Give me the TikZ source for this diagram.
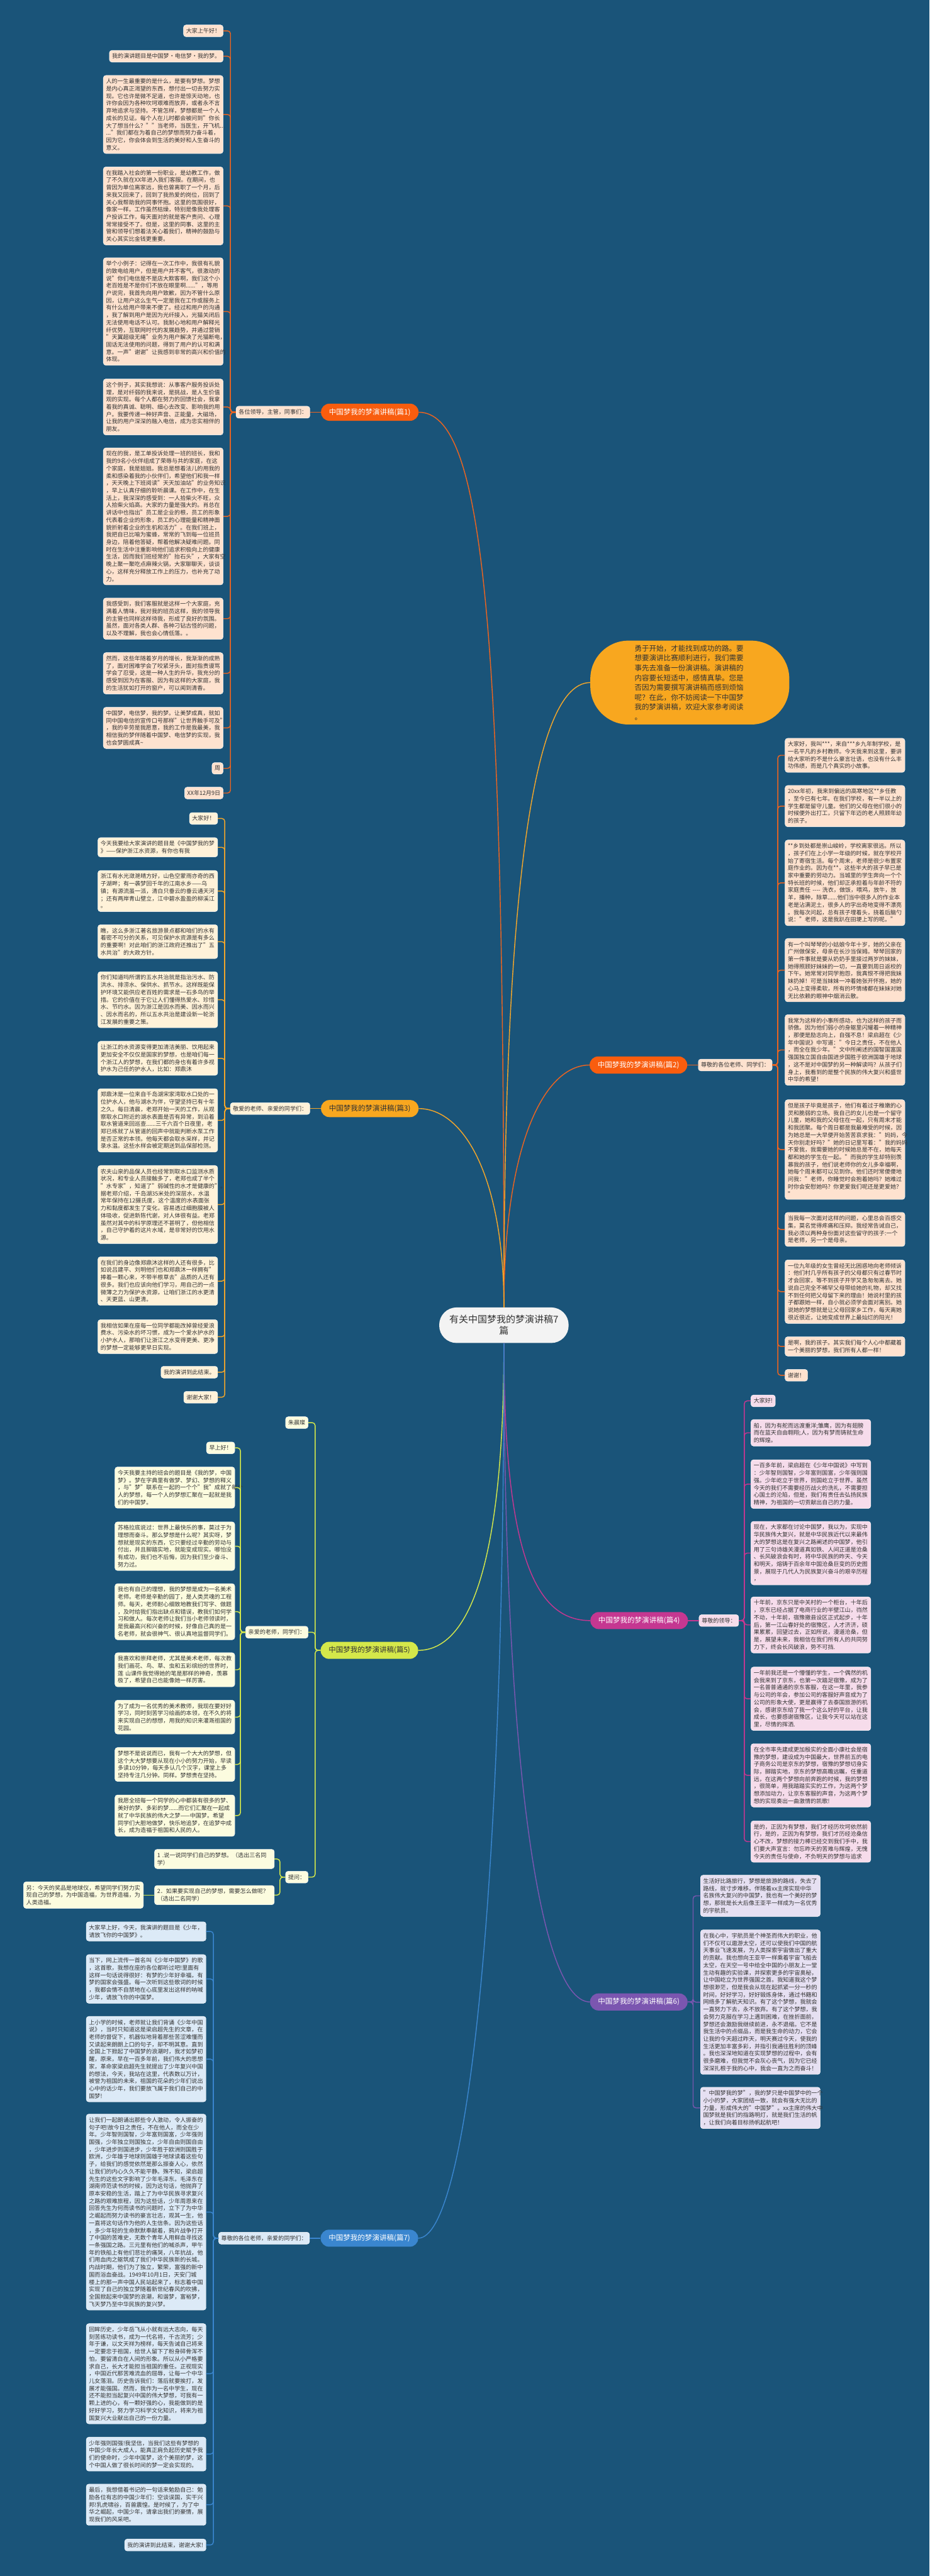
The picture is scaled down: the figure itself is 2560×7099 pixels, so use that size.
\documentclass[tikz,border=0pt]{standalone}
\usepackage{fontspec}
\setmainfont{Noto Sans CJK SC}
\usetikzlibrary{positioning}

\definecolor{bgblue}{HTML}{1A5479}
\definecolor{txt}{HTML}{333333}
\definecolor{orline}{HTML}{EC6420}
\definecolor{ornode}{HTML}{F95D0E}
\definecolor{orbox}{HTML}{FEE2CF}
\definecolor{goline}{HTML}{F3A62A}
\definecolor{gonode}{HTML}{F8A71F}
\definecolor{gobox}{HTML}{FFF2D9}
\definecolor{ygline}{HTML}{D5E84A}
\definecolor{ygbox}{HTML}{FCFCDF}
\definecolor{mgline}{HTML}{C53791}
\definecolor{mgbox}{HTML}{F6DCEB}
\definecolor{puline}{HTML}{7B56B0}
\definecolor{pubox}{HTML}{E6E0F2}
\definecolor{blline}{HTML}{3A86CF}
\definecolor{blbox}{HTML}{DCEAF7}
\definecolor{centrefill}{HTML}{F3F3F3}

\newcommand{\boxfont}{\fontsize{15.7}{20.3}\selectfont}

\tikzset{
  base/.style={rounded corners=7pt, inner xsep=7.5pt, inner ysep=9pt, align=left,
    font=\boxfont, text=txt, draw=white, line width=0.8pt},
  para/.style={base, text width=315pt},
  chip/.style={base},
  branchnode/.style={rounded corners=23pt, inner xsep=22pt, inner ysep=12pt,
    minimum height=47pt, font=\fontsize{20}{24}\selectfont, text=white},
  link/.style={line width=2.5pt, rounded corners=8pt},
  curve/.style={line width=2.5pt}
}

\begin{document}
\begin{tikzpicture}[x=1pt,y=-1pt]
\fill[bgblue] (0,0) rectangle (2560,7099);
\useasboundingbox (0,0) rectangle (2560,7099);

% centre
\node[rounded corners=48pt, fill=centrefill, text=txt, align=center, inner xsep=28pt,
  inner ysep=14pt, minimum height=98pt, font=\fontsize{26}{31}\selectfont] (cc) at (1388,3652)
  {有关中国梦我的梦演讲稿7\\篇};

% intro bubble
\node[rounded corners=105pt, fill=gonode, text=txt, align=left, text width=304pt,
  inner xsep=122pt, inner ysep=12pt, font=\fontsize{20}{27}\selectfont] (intro) at (1900,1881)
  {勇于开始，才能找到成功的路。要\\想要演讲比赛顺利进行，我们需要\\事先去准备一份演讲稿。演讲稿的\\内容要长短适中，感情真挚。您是\\否因为需要撰写演讲稿而感到烦恼\\呢？在此，你不妨阅读一下中国梦\\我的梦演讲稿，欢迎大家参考阅读\\。};

% branch nodes
\node[branchnode, fill=ornode, anchor=east] (p1) at (1153,1136) {中国梦我的梦演讲稿(篇1)};
\node[branchnode, fill=ornode, anchor=west] (p2) at (1624,2935) {中国梦我的梦演讲稿(篇2)};
\node[branchnode, fill=gonode, text=txt, anchor=east] (p3) at (1153,3055) {中国梦我的梦演讲稿(篇3)};
\node[branchnode, fill=mgline, anchor=west] (p4) at (1626,4466) {中国梦我的梦演讲稿(篇4)};
\node[branchnode, fill=ygline, text=txt, anchor=east] (p5) at (1152,4548) {中国梦我的梦演讲稿(篇5)};
\node[branchnode, fill=puline, anchor=west] (p6) at (1625,5517) {中国梦我的梦演讲稿(篇6)};
\node[branchnode, fill=blline, anchor=east] (p7) at (1152,6168) {中国梦我的梦演讲稿(篇7)};

% pian 1
\begin{scope}[every node/.append style={fill=orbox}]
\node[chip, left=30pt of p1] (l1) {各位领导，主管，同事们：};
\node[chip, anchor=east] (a1) at (615,85) {大家上午好！};
\node[chip, anchor=east] (a2) at (615,155) {我的演讲题目是中国梦·电信梦·我的梦。};
\node[para, anchor=east] (a3) at (615,315.5) {人的一生最重要的是什么，是要有梦想。梦想\\是内心真正渴望的东西，想付出一切去努力实\\现。它也许是微不足道，也许是惊天动地，也\\许你会因为各种坎坷艰难而放弃，或者永不言\\弃地追求与坚持。不管怎样，梦想都是一个人\\成长的见证。每个人在儿时都会被问到"你长\\大了想当什么？""当老师，当医生，开飞机...\\..."我们都在为着自己的梦想而努力奋斗着，\\因为它，你会体会到生活的美好和人生奋斗的\\意义。};
\node[para, anchor=east] (a4) at (615,567.5) {在我踏入社会的第一份职业，是幼教工作，做\\了不久就在XX年进入我们客服。在期间，也\\曾因为单位离家远，我也曾离职了一个月，后\\来我又回来了，回到了我热爱的岗位，回到了\\关心我帮助我的同事怀抱。这里的氛围很好，\\像家一样。工作虽然枯燥，特别是像我处理客\\户投诉工作，每天面对的就是客户责问、心理\\常常接受不了。但是，这里的同事、这里的主\\管和领导们想着法关心着我们，精神的鼓励与\\关心其实比金钱更重要。};
\node[para, anchor=east] (a5) at (615,858.5) {举个小例子：记得在一次工作中，我很有礼貌\\的致电给用户，但是用户并不客气，很激动的\\说"你们电信是不是店大欺客啊，我们这个小\\老百姓是不是你们不放在眼里啊......"，等用\\户说完，我首先向用户致歉，因为不管什么原\\因，让用户这么生气一定是我在工作或服务上\\有什么给用户带来不便了。经过和用户的沟通\\，我了解到用户是因为光纤接入，光猫关闭后\\无法使用电话不认可。我耐心地和用户解释光\\纤优势，互联网时代的发展趋势，并通过营销\\"天翼超级无绳"业务为用户解决了光猫断电，\\固话无法使用的问题，得到了用户的认可和满\\意。一声"谢谢"让我感到非常的高兴和价值的\\体现。};
\node[para, anchor=east] (a6) at (615,1121.5) {这个例子，其实我想说：从事客户服务投诉处\\理，是对纤弱的我来说，是挑战，是人生价值\\观的实现。每个人都在努力的回馈社会，我拿\\着我的真诚、聪明、细心去改变、影响我的用\\户。我要传递一种好声音、正能量，大磁场，\\让我的用户深深的融入电信，成为忠实相伴的\\朋友。};
\node[para, anchor=east] (a7) at (615,1423) {现在的我，是工单投诉处理一班的班长，我和\\我的9名小伙伴组成了荣辱与共的家庭，在这\\个家庭，我是姐姐。我总是想着法儿的用我的\\柔和感染着我的小伙伴们，希望他们和我一样\\，天天晚上下班阅读"天天加油站"的业务知识\\，早上认真仔细的聆听晨课。在工作中，在生\\活上，我深深的感受到：一人拾柴火不旺，众\\人拾柴火焰高。大家的力量是强大的。肖总在\\讲话中也指出"员工是企业的根，员工的形象\\代表着企业的形象，员工的心理能量和精神面\\貌折射着企业的生机和活力"。在我们班上，\\我把自已比喻为蜜蜂，常常的飞到每一位班员\\身边，陪着他答疑，帮着他解决疑难问题。同\\时在生活中注重影响他们追求积极向上的健康\\生活，因而我们班经常的"抬石头"，大家有空\\晚上聚一聚吃点麻辣火锅，大家聊聊天，谈谈\\心，这样充分释放工作上的压力，也补充了动\\力。};
\node[para, anchor=east] (a8) at (615,1705) {我感受到，我们客服就是这样一个大家庭，充\\满着人情味，我对我的班员这样，我的领导我\\的主管也同样这样待我，形成了良好的氛围。\\虽然，面对各类人群、各种刁钻古怪的问题，\\以及不理解，我也会心情低落。。};
\node[para, anchor=east] (a9) at (615,1855.5) {然而，这些年随着岁月的增长，我渐渐的成熟\\了，面对困难学会了咬紧牙头，面对指责谩骂\\学会了忍受，这是一种人生的升华，我充分的\\感受到因为在客服、因为有这样的大家庭，我\\的生活犹如打开的窗户，可以闻到清香。};
\node[para, anchor=east] (a10) at (615,2006) {中国梦，电信梦，我的梦。让美梦成真，就如\\同中国电信的宣传口号那样"让世界触手可及"\\，我的辛劳是我愿意，我的工作是我最美，我\\相信我的梦伴随着中国梦、电信梦的实现，我\\也会梦圆成真\textasciitilde};
\node[chip, anchor=east] (a11) at (615,2117.5) {周};
\node[chip, anchor=east] (a12) at (615,2185.5) {XX年12月9日};
\end{scope}

% pian 2
\begin{scope}[every node/.append style={fill=orbox}]
\node[chip, right=30pt of p2] (l2) {尊敬的各位老师、同学们：};
\node[para, anchor=west] (b1) at (2162,2081.5) {大家好，我叫***，来自***乡九年制学校，是\\一名平凡的乡村教师。今天我来到这里，要讲\\给大家听的不是什么豪言壮语，也没有什么丰\\功伟绩，而是几个真实的小故事。};
\node[para, anchor=west] (b2) at (2162,2221.5) {20xx年初，我来到偏远的高寒地区**乡任教\\，至今已有七年。在我们学校，有一半以上的\\学生都是留守儿童。他们的父母在他们很小的\\时候便外出打工，只留下年迈的老人照顾年幼\\的孩子。};
\node[para, anchor=west] (b3) at (2162,2433) {**乡到处都是崇山峻岭，学校离家很远。所以\\，孩子们在上小学一年级的时候，就在学校开\\始了寄宿生活。每个周末，老师是很少布置家\\庭作业的。因为在**，这些半大的孩子早已是\\家中重要的劳动力。当城里的学生奔向一个个\\特长班的时候，他们却正承担着与年龄不符的\\家庭责任 -{}-{}-{}- 洗衣，做饭，喂鸡，放牛，放\\羊，播种，除草......他们当中很多人的作业本\\老是沾满泥土，很多人的字出奇地变得不漂亮\\。我每次问起，总有孩子埋着头，挠着后脑勺\\说："老师，这是我趴在田埂上写的呢。"};
\node[para, anchor=west] (b4) at (2162,2673.5) {有一个叫琴琴的小姑娘今年十岁，她的父亲在\\广州做保安，母亲在长沙当保姆。琴琴回家的\\第一件事就是要从奶奶手里接过两岁的妹妹，\\她得照顾好妹妹的一切，一直要到周日返校的\\下午。她常常对同学抱怨，我真恨不得把我妹\\妹扔掉！可是当妹妹一冲着她张开怀抱，她的\\心马上变得柔软，所有的坏情绪都在妹妹对她\\无比依赖的眼神中烟消云散。};
\node[para, anchor=west] (b5) at (2162,2893.5) {我常为这样的小事所感动，也为这样的孩子而\\骄傲。因为他们弱小的身躯里闪耀着一种精神\\，那便是励志向上，自强不息！梁启超在《少\\年中国说》中写道："今日之责任，不在他人\\，而全在我少年。"文中所阐述的国智国富国\\强国独立国自由国进步国胜于欧洲国雄于地球\\，这不是对中国梦的另一种解读吗？从孩子们\\身上，我看到的是整个民族的伟大复兴和盛世\\中华的希望！};
\node[para, anchor=west] (b6) at (2162,3168) {但是孩子毕竟是孩子，他们有着过于稚嫩的心\\灵和脆弱的立场。我自己的女儿也是一个留守\\儿童，她和我的父母住在一起，只有周末才能\\和我团聚。每个周日都是我最难受的时候，因\\为她总是一大早便开始苦苦哀求我："妈妈，今\\天你别走好吗？"她的日记里写着："我的妈妈\\不爱我，我需要她的时候她总是不在，她每天\\都和她的学生在一起。"而我的学生却特别羡\\慕我的孩子，他们说老师你的女儿多幸福啊，\\她每个周末都可以见到你。他们还时常傻傻地\\问我："老师，你睡觉时会抱着她吗？她难过\\时你会安慰她吗？你更爱我们呢还是更爱她？\\"};
\node[para, anchor=west] (b7) at (2162,3388) {当我每一次面对这样的问题，心里总会百感交\\集，莫名觉得疼痛和压抑。我经常告诫自己，\\我必须以两种身份面对这些留守的孩子:一个\\是老师，另一个是母亲。};
\node[para, anchor=west] (b8) at (2162,3559.5) {一位九年级的女生曾经无比困惑地向老师倾诉\\：他们村几乎所有孩子的父母都只有过春节时\\才会回家，等不到孩子开学又急匆匆离去。她\\说自己完全不稀罕父母带给她的礼物，却又找\\不到任何把父母留下来的理由！她说村里的孩\\子都跟她一样，自小就必须学会面对离别。她\\说她的梦想就是让父母回家乡工作，每天离她\\很近很近，让她变成世界上最灿烂的阳光！};
\node[para, anchor=west] (b9) at (2162,3710.5) {是啊，我的孩子。其实我们每个人心中都藏着\\一个美丽的梦想，我们所有人都一样！};
\node[chip, anchor=west] (b10) at (2162,3790) {谢谢！};
\end{scope}

% pian 3
\begin{scope}[every node/.append style={fill=gobox}]
\node[chip, left=30pt of p3] (l3) {敬爱的老师、亲爱的同学们：};
\node[chip, anchor=east] (c1) at (600,2255.5) {大家好！};
\node[para, anchor=east] (c2) at (600,2335) {今天我要给大家演讲的题目是《中国梦我的梦\\》——保护浙江水资源，有你也有我};
\node[para, anchor=east] (c3) at (600,2455.5) {浙江有水光潋滟晴方好，山色空蒙雨亦奇的西\\子湖畔；有一袭梦回千年的江南水乡——乌\\镇；有源流虽一派，清白只垂云的垂云通天河\\；还有两岸青山壁立，江中碧水盈盈的柳溪江\\。};
\node[para, anchor=east] (c4) at (600,2595) {瞧，这么多浙江著名旅游景点都和咱们的水有\\着密不可分的关系，可见保护水资源是有多么\\的重要啊！对此咱们的浙江政府还推出了"五\\水共治"的大政方针。};
\node[para, anchor=east] (c5) at (600,2755) {你们知道吗所谓的五水共治就是指治污水、防\\洪水、排涝水、保供水、抓节水。这样既能保\\护环境又能供应老百姓的需求是一石多鸟的举\\措。它的价值在于它让人们懂得热爱水、珍惜\\水、节约水。因为浙江是因水而美、因水而兴\\、因水而名的，所以五水共治是建设新一轮浙\\江发展的重要之策。};
\node[para, anchor=east] (c6) at (600,2916.5) {让浙江的水资源变得更加清洁美丽、饮用起来\\更加安全不仅仅是国家的梦想，也是咱们每一\\个浙江人的梦想，在我们都的身也有着许多视\\护水为己任的护水人，比如：郑鼎沐};
\node[para, anchor=east] (c7) at (600,3087.5) {郑鼎沐是一位来自千岛湖宋家湾取水口处的一\\位护水人，他与湖水为伴，守望坚持已有十年\\之久。每日清晨，老郑开始一天的工作，从观\\察取水口附近的湖水表面是否有异常，到沿着\\取水管道来回巡查......三千六百个日夜里，老\\郑已练就了从管道的回声中就能判断水泵工作\\是否正常的本领。他每天都会取水采样，并记\\录水温。这些水样会被定期送到品保部检测。};
\node[para, anchor=east] (c8) at (600,3319.5) {农夫山泉的品保人员也经常到取水口监测水质\\状况，和专业人员接触多了，老郑也成了半个\\"水专家"，知道了"弱碱性的水才是健康的"。\\据老郑介绍，千岛湖35米处的深层水，水温\\常年保持在12摄氏度，这个温度的水表面张\\力和黏度都发生了变化，容易透过细胞膜被人\\体吸收，促进新陈代谢，对人体很有益。老郑\\虽然对其中的科学原理还不甚明了，但他相信\\，自己守护着的这片水域，是非常好的饮用水\\源。};
\node[para, anchor=east] (c9) at (600,3530.5) {在我们的身边像郑鼎沐这样的人还有很多，比\\如说吕建平、刘明他们也和郑鼎沐一样拥有"\\捧着一颗心来，不带半根草去"品质的人还有\\很多。我们也应该向他们学习，用自己的一点\\微薄之力为保护水资源，让咱们浙江的水更清\\、天更蓝、山更清。};
\node[para, anchor=east] (c10) at (600,3683.5) {我相信如果在座每一位同学都能改掉曾经爱浪\\费水、污染水的坏习惯，成为一个爱水护水的\\小护水人，那咱们让浙江之水变得更美、更净\\的梦想一定能够更早日实现。};
\node[chip, anchor=east] (c11) at (600,3781.5) {我的演讲到此结束。};
\node[chip, anchor=east] (c12) at (600,3850.5) {谢谢大家！};
\end{scope}

% pian 4
\begin{scope}[every node/.append style={fill=mgbox}]
\node[chip, right=30pt of p4] (l4) {尊敬的领导：};
\node[chip, anchor=west] (d1) at (2068,3860.5) {大家好!};
\node[para, anchor=west] (d2) at (2068,3948.5) {船，因为有舵而远渡重洋;雏鹰，因为有翅膀\\而在蓝天自由翱翔;人，因为有梦而铸就生命\\的辉煌。};
\node[para, anchor=west] (d3) at (2068,4090) {一百多年前，梁启超在《少年中国说》中写到\\：少年智则国智，少年富则国富，少年强则国\\强。少年屹立于世界，则国屹立于世界。虽然\\今天的我们不需要经历战火的洗礼，不需要担\\心国土的沦陷，但是，我们有责任去弘扬民族\\精神，为祖国的一切贡献出自己的力量。};
\node[para, anchor=west] (d4) at (2068,4280) {现在，大家都在讨论中国梦，我以为，实现中\\华民族伟大复兴，就是中华民族近代以来最伟\\大的梦想这是在复兴之路阐述的中国梦，他引\\用了三句诗雄关漫道真如铁、人间正道是沧桑\\、长风破浪会有时，将中华民族的昨天、今天\\和明天，熔铸于百余年中国沧桑巨变的历史图\\景，展现于几代人为民族复兴奋斗的艰辛历程\\，};
\node[para, anchor=west] (d5) at (2068,4478) {十年前，京东只是中关村的一个柜台，十年后\\，京东已经占据了电商行业的半壁江山，岿然\\不动，十年前，宿豫撤县设区正式起步，十年\\后，第一江山春好处的宿豫区，人才济济，硕\\果累累，回望过去，正如所说，漫道沧桑，但\\是，展望未来，我相信在我们所有人的共同努\\力下，终会长风破浪，势不可挡.};
\node[para, anchor=west] (d6) at (2068,4681.5) {一年前我还是一个懵懂的学生，一个偶然的机\\会我来到了京东，也第一次踏足宿豫，成为了\\一名普普通通的京东客服，在这一年里，我参\\与公司的年会，参加公司的客服好声音成为了\\公司的形象大使，更是赢得了去泰国旅游的机\\会，感谢京东给了我一个这么好的平台，让我\\成长，也要感谢宿豫区，让我今天可以站在这\\里，尽情的挥洒.};
\node[para, anchor=west] (d7) at (2068,4892.5) {在全市率先建成更加殷实的全面小康社会是宿\\豫的梦想，建设成为中国最大，世界前五的电\\子商务公司是京东的梦想，宿豫的梦想切身实\\际，脚踏实地，京东的梦想高瞻远瞩，任重道\\远，在这两个梦想向前奔跑的时候，我的梦想\\，很简单，用我踏踏实实的工作，为这两个梦\\想添加动力，让京东客服的声音，为这两个梦\\想的实现奏出一曲激情的凯歌!};
\node[para, anchor=west] (d8) at (2068,5075) {是的，正因为有梦想，我们才经历坎坷依然前\\行，是的，正因为有梦想，我们才历经沧桑信\\心不改，梦想的接力棒已经交到我们手中，我\\们要大声宣言：勿忘昨天的苦难与辉煌，无愧\\今天的责任与使命，不负明天的梦想与追求};
\end{scope}

% pian 5
\begin{scope}[every node/.append style={fill=ygbox}]
\node[chip, anchor=east] (e0) at (849,3920.5) {朱晨璨};
\node[chip, anchor=east] (l5) at (849,4498) {亲爱的老师，同学们：};
\node[chip, anchor=east] (eq) at (849,5173) {提问：};
\node[chip, anchor=east] (e1) at (647,3990) {早上好！};
\node[para, anchor=east] (e2) at (647,4099.5) {今天我要主持的班会的题目是《我的梦，中国\\梦》。梦在字典里有做梦、梦幻、梦想的释义\\，与"梦"联系在一起的一个个"我"成就了每个\\人的梦想，每一个人的梦想汇聚在一起就是我\\们的中国梦。};
\node[para, anchor=east] (e3) at (647,4261) {苏格拉底说过：世界上最快乐的事，莫过于为\\理想而奋斗。那么梦想是什么呢？其实呀，梦\\想就是现实的东西，它只要经过辛勤的劳动与\\付出，并且脚踏实地，就能变成现实。哪怕没\\有成功，我们也不后悔，因为我们至少奋斗、\\努力过。};
\node[para, anchor=east] (e4) at (647,4441.5) {我也有自己的理想，我的梦想是成为一名美术\\老师。老师是辛勤的园丁，是人类灵魂的工程\\师。每天，老师耐心细致地教我们写字、做题\\，及时给我们指出缺点和错误，教我们如何学\\习和做人。每次老师让我们当小老师领读时，\\是我最高兴和兴奋的时候，好像自己真的是一\\名老师，就会很神气、很认真地监督同学们。};
\node[para, anchor=east] (e5) at (647,4601.5) {我喜欢和崇拜老师，尤其是美术老师，每次教\\我们画花、鸟、草、虫和五彩缤纷的世界时，\\莲 山课件我觉得她的笔是那样的神奇，羡慕\\极了，希望自己也能像她一样厉害。};
\node[para, anchor=east] (e6) at (647,4732) {为了成为一名优秀的美术教师，我现在要好好\\学习，同时刻苦学习绘画的本领，在不久的将\\来实现自己的想想，用我的知识来灌溉祖国的\\花园。};
\node[para, anchor=east] (e7) at (647,4862.5) {梦想不是说说而已，我有一个大大的梦想，但\\这个大大梦想要从现在小小的努力开始，早读\\多读10分钟，每天多认几个汉字，课堂上多\\坚持专注几分钟。同样。梦想贵在坚持。};
\node[para, anchor=east] (e8) at (647,5003.5) {我愿全班每一个同学的心中都装有很多的梦、\\美好的梦、多彩的梦......而它们汇聚在一起成\\就了中华民族的伟大之梦——中国梦。希望\\同学们大胆地做梦，快乐地追梦，在追梦中成\\长，成为造福于祖国和人民的人。};
\node[para, anchor=east] (q1) at (756,5123) {1 .说一说同学们自己的梦想。（选出三名同\\学）};
\node[para, anchor=east] (q2) at (756,5222.5) {2．如果要实现自己的梦想，需要怎么做呢？\\（选出二名同学）};
\node[para, left=30pt of q2] (q3) {另：今天的奖品是地球仪，希望同学们努力实\\现自己的梦想，为中国造福，为世界造福，为\\人类造福。};
\end{scope}

% pian 6
\begin{scope}[every node/.append style={fill=pubox}]
\node[para, anchor=west] (f1) at (1929,5224.5) {生活好比路旅行，梦想是旅游的路线，失去了\\路线，就寸步难移。伴随着xx主席实现中华\\名族伟大复兴的中国梦，我也有一个美好的梦\\想，那就是长大后像王亚平一样成为一名优秀\\的宇航员。};
\node[para, anchor=west] (f2) at (1929,5517.5) {在我心中，宇航员是个神圣而伟大的职业，他\\们不仅可以遨游太空，还可以使我们中国的航\\天事业飞速发展，为人类探索宇宙做出了重大\\的贡献。我也想向王亚平一样乘着宇宙飞船去\\太空，在天空一号中给全中国的小朋友上一堂\\生动有趣的实验课，并探索更多的宇宙奥秘，\\让中国屹立为世界强国之首。我知道我这个梦\\想很渺茫，但是我会从现在起抓紧一分一秒的\\时间，好好学习，好好锻炼身体，通过书籍和\\网络多了解航天知识。有了这个梦想，我就会\\一直努力下去，永不放弃。有了这个梦想，我\\会努力克服在学习上遇到困难，在挫折面前，\\梦想还会激励我继续前进，永不退缩。它不是\\我生活中的点缀品，而是我生命的动力，它会\\让我的今天超过昨天，明天赛过今天，使我的\\生活更加丰富多彩，并指引我通往胜利的顶峰\\。我也深深地知道在实现梦想的过程中，会有\\很多磨难，但我觉不会灰心丧气，因为它已经\\深深扎根于我的心中，我会一直为之而奋斗！};
\node[para, anchor=west] (f3) at (1929,5809) {"中国梦我的梦"，我的梦只是中国梦中的一个\\小小的梦，大家团结一致，就会有强大无比的\\力量，形成伟大的"中国梦"。xx主席的伟大中\\国梦就是我们的指路明灯，就是我们生活的帆\\，让我们向着目标扬帆起航吧！};
\end{scope}

% pian 7
\begin{scope}[every node/.append style={fill=blbox}]
\node[chip, left=30pt of p7] (l7) {尊敬的各位老师，亲爱的同学们：};
\node[para, anchor=east] (g1) at (568,5322.5) {大家早上好，今天，我演讲的题目是《少年，\\请放飞你的中国梦》。};
\node[para, anchor=east] (g2) at (568,5453.5) {当下，网上流传一首名叫《少年中国梦》的歌\\，这首歌，我想在座的各位都听过吧!里面有\\这样一句话说得很好：有梦的少年好幸福，有\\梦的国家会强盛。每一次听到这些歌词的时候\\，我都会情不自禁地在心底里发出这样的呐喊\\少年，请放飞你的中国梦。};
\node[para, anchor=east] (g3) at (568,5674.5) {上小学的时候，老师就让我们背诵《少年中国\\说》，当时只知道这是梁启超先生的文章，在\\老师的督促下，机器似地背着那些苦涩难懂而\\又读起来朗朗上口的句子，却不明其意。直到\\全国上下掀起了中国梦的浪潮时，我才如梦初\\醒，原来，早在一百多年前，我们伟大的思想\\家，革命家梁启超先生就提出了少年复兴中国\\的想法，今天，我站在这里，代表数以万计，\\被誉为祖国的未来，祖国的花朵的少年们说出\\心中的话少年，我们要放飞属于我们自己的中\\国梦!};
\node[para, anchor=east] (g4) at (568,6096) {让我们一起朗诵出那些令人激动，令人振奋的\\句子吧!故今日之责任，不在他人，而全在少\\年。少年智则国智，少年富则国富，少年强则\\国强，少年独立则国独立，少年自由则国自由\\，少年进步则国进步，少年胜于欧洲则国胜于\\欧洲，少年雄于地球则国雄于地球读着这些句\\子，给我们的感觉依然是那么振奋人心，依然\\让我们的内心久久不能平静。殊不知，梁启超\\先生的这些文字影响了少年毛泽东。毛泽东在\\湖南师范读书的时候，因为这句话，他抛弃了\\原本安稳的生活，踏上了为中华民族寻求复兴\\之路的艰难旅程，因为这些话，少年周恩来在\\回答先生为何而读书的问题时，立下了为中华\\之崛起而努力读书的豪言壮志，观其一生，他\\一直将这句话作为他的人生信条。因为这些话\\，多少年轻的生命默默奉献着，鸦片战争打开\\了中国的苦难史，无数个青年人用鲜血寻找这\\一条强国之路。三元里有他们的喊杀声，甲午\\年的铁船上有他们悲壮的痛哭，八年抗战，他\\们用血肉之躯筑成了我们中华民族新的长城。\\内战时期，他们为了独立，繁荣，富强的新中\\国而浴血奋战。1949年10月1日，天安门城\\楼上的那一声中国人民站起来了，标志着中国\\实现了自己的独立梦随着新世纪春风的吹拂，\\全国掀起来中国梦的浪潮，和谐梦，富裕梦，\\飞天梦乃至中华民族的复兴梦。};
\node[para, anchor=east] (g5) at (568,6541.5) {回眸历史，少年岳飞从小就有远大志向，每天\\刻苦练功读书，成为一代名将，千古流芳；少\\年于谦，以文天祥为榜样，每天告诫自己将来\\一定要忠于祖国，给世人留下了粉身碎骨浑不\\怕，要留清白在人间的形象。所以从小严格要\\求自己，长大才能担当祖国的重任。正视现实\\，中国近代那苦难流血的屈辱，让每一个中华\\儿女落泪。历史告诉我们：落后就要挨打，发\\展才能强国。然而，我作为一名中学生，现在\\还不能担当起复兴中国的伟大梦想，可我有一\\颗上进的心，有一颗好强的心，我能做到的是\\好好学习，努力学习科学文化知识，将来为祖\\国复兴大业献出自己的一份力量。};
\node[para, anchor=east] (g6) at (568,6763) {少年强则国强!我坚信，当我们这些有梦想的\\中国少年长大成人，能真正肩负起历史赋予我\\们的使命时，少年中国梦，这个美丽的梦，这\\个中国人做了很长时间的梦一定会实现的。};
\node[para, anchor=east] (g7) at (568,6902.5) {最后，我想借着书记的一句话来勉励自己：勉\\励各位有志的中国少年们：空谈误国，实干兴\\邦!乳虎啸谷，百兽震惶。是时候了，为了中\\华之崛起，中国少年，请拿出我们的豪情，展\\现我们的风采吧。};
\node[chip, anchor=east] (g8) at (568,7013.5) {我的演讲到此结束，谢谢大家!};
\end{scope}

% curves from the centre
\draw[curve, orline] (cc.north) .. controls (1388,1700) and (1330,1136) .. (p1.east);
\draw[curve, goline] (cc.north) .. controls (1388,2600) and (1450,1881) .. (intro.west);
\draw[curve, orline] (cc.north) .. controls (1388,3150) and (1500,2935) .. (p2.west);
\draw[curve, goline] (cc.north) .. controls (1388,3250) and (1280,3055) .. (p3.east);
\draw[curve, ygline] (cc.south) .. controls (1388,4350) and (1280,4548) .. (p5.east);
\draw[curve, mgline] (cc.south) .. controls (1388,4300) and (1480,4466) .. (p4.west);
\draw[curve, puline] (cc.south) .. controls (1388,4800) and (1480,5517) .. (p6.west);
\draw[curve, blline] (cc.south) .. controls (1388,5300) and (1280,6168) .. (p7.east);

% links
\draw[link, orline] (p1.west) -- (l1.east);
\foreach \i in {1,...,12} \draw[link, orline] (l1.west) -- ++(-15,0) |- (a\i.east);
\draw[link, orline] (p2.east) -- (l2.west);
\foreach \i in {1,...,10} \draw[link, orline] (l2.east) -- ++(15,0) |- (b\i.west);
\draw[link, goline] (p3.west) -- (l3.east);
\foreach \i in {1,...,12} \draw[link, goline] (l3.west) -- ++(-15,0) |- (c\i.east);
\draw[link, mgline] (p4.east) -- (l4.west);
\foreach \i in {1,...,8} \draw[link, mgline] (l4.east) -- ++(15,0) |- (d\i.west);
\foreach \n in {e0,l5,eq} \draw[link, ygline] (p5.west) -- ++(-15,0) |- (\n.east);
\foreach \i in {1,...,8} \draw[link, ygline] (l5.west) -- ++(-14,0) |- (e\i.east);
\foreach \n in {q1,q2} \draw[link, ygline] (eq.west) -- ++(-15,0) |- (\n.east);
\draw[link, ygline] (q2.west) -- (q3.east);
\foreach \i in {1,2,3} \draw[link, puline] (p6.east) -- ++(15,0) |- (f\i.west);
\draw[link, blline] (p7.west) -- (l7.east);
\foreach \i in {1,...,8} \draw[link, blline] (l7.west) -- ++(-14,0) |- (g\i.east);
\end{tikzpicture}
\end{document}
